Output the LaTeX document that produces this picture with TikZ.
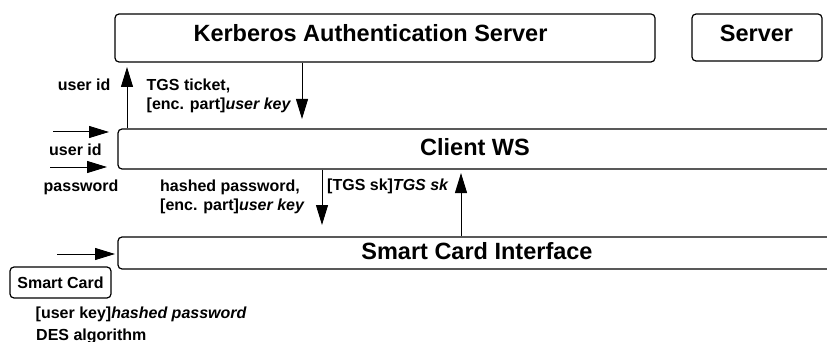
\documentclass[tikz,border=0pt]{standalone}
\usepackage{fontspec}
\setmainfont{Liberation Sans}
\usetikzlibrary{arrows.meta}
\begin{document}
\begin{tikzpicture}[x=1pt,y=-1pt,
  box/.style={draw, line width=1.2pt, rounded corners=4pt, inner sep=0pt},
  title/.style={font=\fontsize{23.5}{28}\selectfont\bfseries, inner sep=0pt, anchor=base},
  lbl/.style={font=\fontsize{16}{19}\selectfont\bfseries, inner sep=0pt, anchor=base west},
  arr/.style={line width=1pt, -{Triangle[length=20pt,width=12pt]}}
]
\useasboundingbox (0,0) rectangle (827,342);
\clip (0,0) rectangle (827,342);

% boxes
\node[box, minimum width=540pt, minimum height=48pt] (kas) at (385,38) {};
\node[box, minimum width=130pt, minimum height=47pt] (srv) at (757,37.5) {};
\node[box, minimum width=730pt, minimum height=40pt] (cws) at (483,149) {};
\node[box, minimum width=730pt, minimum height=32pt] (sci) at (483,253) {};
\node[box, minimum width=101pt, minimum height=31pt, font=\fontsize{16}{19}\selectfont\bfseries] (sc) at (60.5,282.5) {Smart Card};

% titles
\node[title] (kast) at (370.5,42) {Kerberos Authentication Server};
\node[title] (srvt) at (756.5,42) {Server};
\node[title] (cwst) at (475,155) {Client WS};
\node[title] (scit) at (477,259) {Smart Card Interface};

% helper coordinates
\coordinate (xa) at (127,0);
\coordinate (ta) at (127,67);
\coordinate (xb) at (302,0);
\coordinate (tb) at (302,119);
\coordinate (xc) at (322,0);
\coordinate (tc) at (322,225);
\coordinate (xd) at (461,0);
\coordinate (td) at (461,173);
\coordinate (l1s) at (53,132);
\coordinate (l1e) at (109,132);
\coordinate (l2s) at (50,167);
\coordinate (l2e) at (107,167);
\coordinate (l3s) at (57,254);
\coordinate (l3e) at (115,254);

% connectors
\draw[arr] (cws.north -| xa) -- (ta);
\draw[arr] (kas.south -| xb) -- (tb);
\draw[arr] (cws.south -| xc) -- (tc);
\draw[arr] (sci.north -| xd) -- (td);
\draw[arr] (l1s) -- (l1e);
\draw[arr] (l2s) -- (l2e);
\draw[arr] (l3s) -- (l3e);

% labels
\node[lbl, anchor=base east] (uid1) at (110.5,91) {user id};
\node[lbl] (tgs1) at (146.5,91) {TGS ticket,};
\node[lbl] (tgs2) at (146.5,110) {{[}enc. part{]}\textit{user key}};
\node[lbl] (uid2) at (49,155) {user id};
\node[lbl] (pw) at (43.5,191) {password};
\node[lbl] (hp1) at (160,191) {hashed password,};
\node[lbl] (hp2) at (160,210) {{[}enc. part{]}\textit{user key}};
\node[lbl] (tsk) at (327,190) {{[}TGS sk{]}\textit{TGS sk}};
\node[lbl] (uk) at (35.5,318) {{[}user key{]}\textit{hashed password}};
\node[lbl] (des) at (36,340) {DES algorithm};
\end{tikzpicture}
\end{document}
